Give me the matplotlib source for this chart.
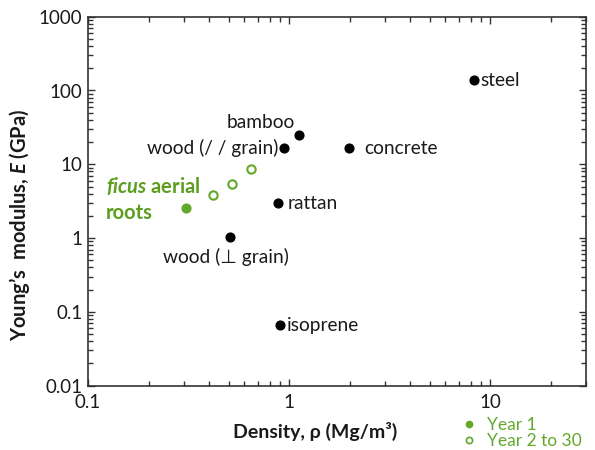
import matplotlib
matplotlib.use("Agg")
import matplotlib.pyplot as plt
from matplotlib.lines import Line2D

plt.rcParams['font.family'] = ['Lato', 'DejaVu Sans']
plt.rcParams['mathtext.fontset'] = 'custom'
plt.rcParams['mathtext.it'] = 'Lato:italic:bold'
plt.rcParams['mathtext.rm'] = 'Lato:bold'

# reference materials (density Mg/m3, modulus GPa)
materials = ["steel", "bamboo", "wood (/ / grain)", "concrete", "rattan",
             "wood (\u22a5 grain)", "isoprene"]
mat_rho = [8.3, 1.12, 0.94, 1.99, 0.88, 0.51, 0.90]
mat_E = [138, 25.3, 16.6, 16.6, 2.98, 1.05, 0.066]

# ficus aerial roots
year1_rho = [0.307]
year1_E = [2.52]
later_rho = [0.417, 0.521, 0.65]
later_E = [3.83, 5.44, 8.69]

# label offsets in points (dx, dy, ha, va)
offsets = {
    "steel": (5, 0, "left", "center"),
    "bamboo": (-3, 9, "right", "center"),
    "wood (/ / grain)": (-4, 0, "right", "center"),
    "concrete": (11, 0, "left", "center"),
    "rattan": (7, 0, "left", "center"),
    "wood (\u22a5 grain)": (-3, -15, "center", "center"),
    "isoprene": (5, 0, "left", "center"),
}

green = '#5b9e1e'
green_m = '#62a82a'

fig = plt.figure(figsize=(5.95, 4.5), dpi=100)
ax = fig.add_axes([88/595, 1 - 385.7/450, (586 - 88)/595, (385.7 - 16.7)/450])

ax.plot(mat_rho, mat_E, 'o', color='black', markersize=6.3, linestyle='none')
ax.plot(year1_rho, year1_E, 'o', color=green_m, markersize=6.3, linestyle='none')
ax.plot(later_rho, later_E, 'o', markerfacecolor='white', markeredgecolor=green_m,
        markeredgewidth=1.5, markersize=6, linestyle='none')

for name, x, y in zip(materials, mat_rho, mat_E):
    dx, dy, ha, va = offsets[name]
    ax.annotate(name, (x, y), xytext=(dx, dy), textcoords='offset points',
                ha=ha, va=va, fontsize=13.8, color='#1a1a1a')

ax.annotate(r"$ficus$ aerial", (year1_rho[0], year1_E[0]), xytext=(-57.5, 16),
            textcoords='offset points', ha='left', va='center', fontsize=14.5,
            fontweight='bold', color=green)
ax.annotate("roots", (year1_rho[0], year1_E[0]), xytext=(-57.5, -3),
            textcoords='offset points', ha='left', va='center', fontsize=14.5,
            fontweight='bold', color=green)

ax.set_xscale('log')
ax.set_yscale('log')
ax.set_xlim(0.1, 30)
ax.set_ylim(0.01, 1000)
ax.set_xticks([0.1, 1, 10])
ax.set_xticklabels(['0.1', '1', '10'])
ax.set_yticks([0.01, 0.1, 1, 10, 100, 1000])
ax.set_yticklabels(['0.01', '0.1', '1', '10', '100', '1000'])
ax.tick_params(which='both', direction='in', top=True, right=True, colors='#333333',
               labelcolor='#1a1a1a', labelsize=13.5)
ax.tick_params(which='major', length=5, width=1)
ax.tick_params(which='minor', length=3.5, width=1)
ax.tick_params(axis='x', pad=6)
ax.tick_params(axis='y', pad=4)
for s in ax.spines.values():
    s.set_linewidth(1.2)
    s.set_color('#333333')

fig.text(20/595, 1 - 225/450, r"Young’s  modulus, $E$ (GPa)", rotation=90,
         ha='center', va='center', fontsize=14.5, fontweight='bold', color='#1a1a1a')
fig.text(315/595, 1 - 431/450, "Density, \u03c1 (Mg/m\u00b3)", ha='center', va='center',
         fontsize=14, fontweight='bold', color='#1a1a1a')

handles = [
    Line2D([], [], marker='o', linestyle='none', color=green_m, markersize=4.5),
    Line2D([], [], marker='o', linestyle='none', markerfacecolor='white',
           markeredgecolor=green_m, markeredgewidth=1.2, markersize=4.5),
]
fig.legend(handles, ["Year 1", "Year 2 to 30"], loc='upper left',
           bbox_to_anchor=(464/595, 1 - 417/450), frameon=False, fontsize=12.5,
           labelcolor=green_m, handlelength=0.6, handletextpad=0.7,
           labelspacing=0.0, borderpad=0, borderaxespad=0)

fig.savefig("out.png", dpi=100)
